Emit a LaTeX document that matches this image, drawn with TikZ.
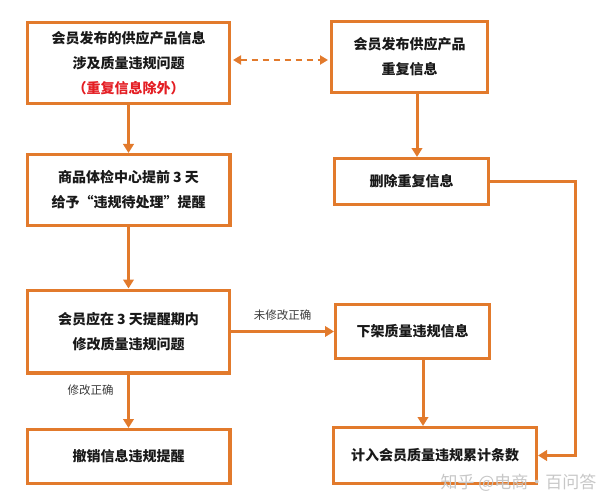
\documentclass[tikz,border=0pt]{standalone}
\usepackage{fontspec}
\setmainfont{Noto Sans CJK SC}
\usepackage{tikz}
\usetikzlibrary{arrows.meta,positioning}
\usepackage{xcolor}
\definecolor{cOrange}{RGB}{226,122,44}
\definecolor{cRed}{RGB}{228,30,36}
\definecolor{cText}{RGB}{25,25,25}
\definecolor{cNote}{RGB}{60,60,60}
\tikzset{
	fbox/.style={draw=cOrange, line width=3.2pt, fill=white, inner sep=0pt,
		align=center, text=cText,
		font=\fontsize{14pt}{25pt}\selectfont\bfseries},
	farr/.style={-{Triangle[length=9pt,width=10.5pt]}, line width=3pt,
		draw=cOrange},
	darr/.style={{Triangle[length=8pt,width=9pt]}-{Triangle[length=8pt,width=9pt]},
		line width=2pt, draw=cOrange, dash pattern=on 6pt off 5pt},
	flabel/.style={font=\fontsize{11.5pt}{13pt}\selectfont, text=cNote},
}

\begin{document}
\begin{tikzpicture}[x=1pt,y=-1pt]
	\useasboundingbox (0,0) rectangle (609,497);
	% left column
	\node[fbox, minimum width=201.8, minimum height=80.8] (b1) at (128.5,63)
		{会员发布的供应产品信息\\涉及质量违规问题\\{\color{cRed}（重复信息除外）}};
	\node[fbox, minimum width=202.8, minimum height=70.8] (b3) at (128.5,190)
		{商品体检中心提前 3 天\\给予“违规待处理”提醒};
	\node[fbox, minimum width=201.8, minimum height=82.8] (b5) at (128.5,331.5)
		{会员应在 3 天提醒期内\\修改质量违规问题};
	\node[fbox, minimum width=202.8, minimum height=53.8] (b7) at (128.5,456.5)
		{撤销信息违规提醒};
	% right column
	\node[fbox, minimum width=155.8, minimum height=70.8] (b2) at (409.5,57)
		{会员发布供应产品\\重复信息};
	\node[fbox, minimum width=153.8, minimum height=45.8] (b4) at (411.5,181.5)
		{删除重复信息};
	\node[fbox, minimum width=153.8, minimum height=53.8] (b6) at (412.5,331.5)
		{下架质量违规信息};
	\node[fbox, minimum width=202.8, minimum height=55.8] (b8) at (435,455.5)
		{计入会员质量违规累计条数};
	\coordinate (rt) at (575,181.5);

	\draw[darr, shorten <=2pt, shorten >=2pt] ([yshift=3]b1.east) -- ([yshift=-3]b2.west);
	\draw[farr] (b1) -- (b3);
	\draw[farr] (b3) -- (b5);
	\draw[farr] (b5) -- (b7) node[flabel, pos=0.3, left=10pt] {修改正确};
	\draw[farr] (b5.east) -- (b6.west) node[flabel, midway, above=6pt] {未修改正确};
	\draw[farr] ([xshift=7.5]b2.south) -- ([xshift=7.5]b2.south |- b4.north);
	\draw[farr] ([xshift=10.5]b6.south) -- ([xshift=10.5]b6.south |- b8.north);
	\draw[farr] (b4.east) -- (rt) |- (b8.east);

	\node[font=\fontsize{17pt}{19pt}\selectfont, text=black!22, anchor=east] (wm)
		at (600,483) {知乎 @电商·百问答};
\end{tikzpicture}
\end{document}
